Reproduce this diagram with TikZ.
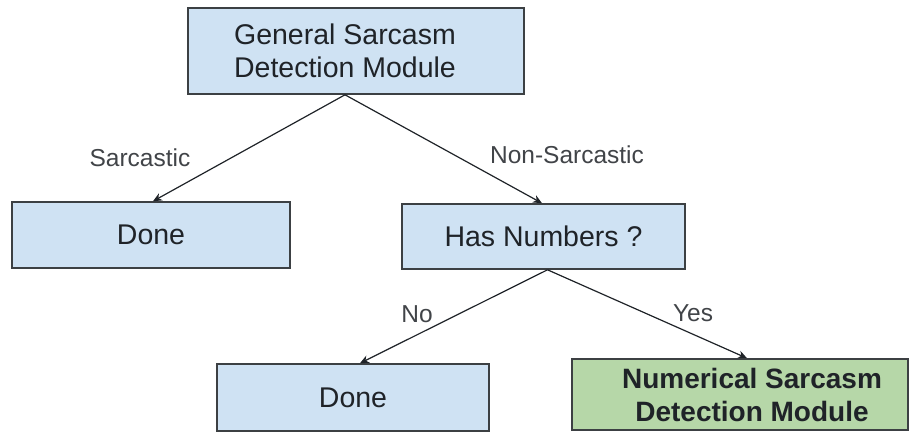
\documentclass[tikz,border=0pt]{standalone}
\usepackage{fontspec}
\setmainfont{Liberation Sans}
\usetikzlibrary{arrows.meta}

\definecolor{boxblue}{HTML}{CFE2F3}
\definecolor{boxgreen}{HTML}{B6D7A8}
\definecolor{edgegray}{HTML}{3C4043}
\definecolor{inkdark}{HTML}{1F2328}

\tikzset{
  flowbox/.style={draw=edgegray, line width=1.6pt, fill=boxblue, rectangle,
    inner sep=0pt, align=center, text=inkdark,
    font=\fontsize{28.5}{33}\selectfont},
  modulebox/.style={flowbox, fill=boxgreen, font=\fontsize{28}{33}\selectfont\bfseries},
  branch/.style={draw=inkdark, line width=1.2pt,
    -{Stealth[length=9pt, width=8pt]}},
  edgelabel/.style={text=inkdark!85, font=\fontsize{24.5}{28}\selectfont, inner sep=0pt}
}

\begin{document}
\begin{tikzpicture}[x=1pt, y=-1pt]
  \useasboundingbox (0,0) rectangle (915,433);

  % decision tree boxes
  \node[flowbox, minimum width=336pt, minimum height=86pt] (gen) at (356,51)
    {\hspace*{-22pt}General Sarcasm\\\hspace*{-22pt}Detection Module};
  \node[flowbox, minimum width=278pt, minimum height=66pt] (done1) at (151,235) {Done};
  \node[flowbox, minimum width=283pt, minimum height=65pt] (has) at (543.5,236.5) {Has Numbers ?};
  \node[flowbox, minimum width=272pt, minimum height=67pt] (done2) at (353,397.5) {Done};
  \node[modulebox, minimum width=336pt, minimum height=71pt] (num) at (740,394.5)
    {\hspace*{24pt}Numerical Sarcasm\\\hspace*{24pt}Detection Module};

  % branch start and end points on the box borders
  \coordinate (genout) at ([xshift=-11pt]gen.south);
  \coordinate (done1in) at ([xshift=2pt]done1.north);
  \coordinate (hasin) at ([xshift=-1.5pt]has.north);
  \coordinate (hasout) at ([xshift=4pt]has.south);
  \coordinate (done2in) at ([xshift=7pt]done2.north);
  \coordinate (numin) at ([xshift=7pt]num.north);

  \draw[branch] (genout) -- (done1in);
  \draw[branch] (genout) -- (hasin);
  \draw[branch] (hasout) -- (done2in);
  \draw[branch] (hasout) -- (numin);

  % branch labels
  \node[edgelabel] (lsarc) at (140,158) {Sarcastic};
  \node[edgelabel] (lnon) at (567,155) {Non-Sarcastic};
  \node[edgelabel] (lno) at (417,314) {No};
  \node[edgelabel] (lyes) at (693,313) {Yes};
\end{tikzpicture}
\end{document}
